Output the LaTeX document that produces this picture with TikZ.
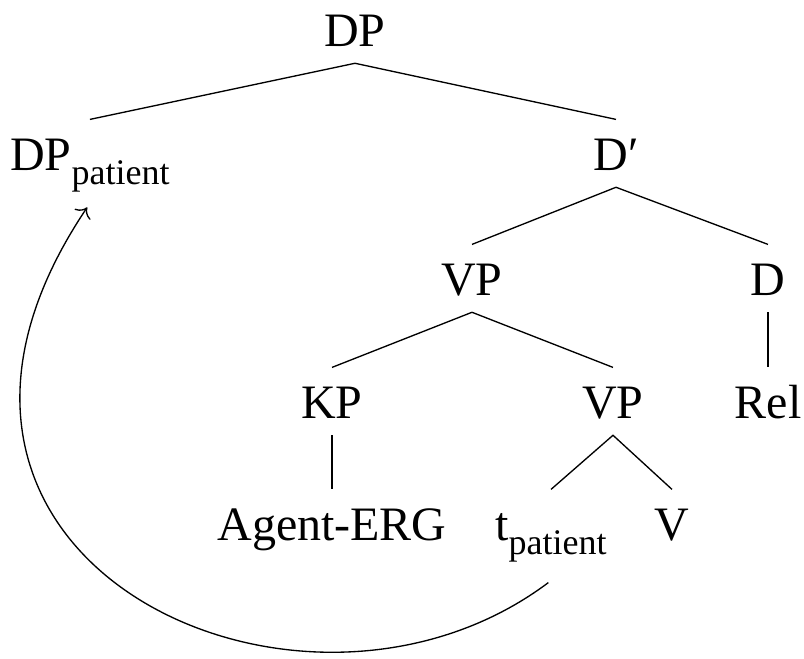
\documentclass[tikz,border=0pt]{standalone}
\usepackage{fontspec}
\setmainfont{Liberation Serif}
\usetikzlibrary{arrows.meta}
\newcommand{\subtxt}[1]{\raisebox{-11pt}{\fontsize{27}{30}\selectfont #1}}

\begin{document}
\begin{tikzpicture}[x=0.75pt,y=-0.75pt,
    lbl/.style={anchor=base,inner xsep=0pt,inner ysep=12.75pt,text height=25pt,text depth=0pt,font=\fontsize{36}{40}\selectfont},
    branch/.style={line width=1pt}]
    \useasboundingbox (0,0) rectangle (804,658);

    \node[lbl] (dp) at (355,46) {DP};
    \node[lbl,anchor=base west] (dpp) at (10,170) {DP\subtxt{patient}};
    \node[lbl] (dbar) at (616,170) {D′};
    \node[lbl] (vpa) at (472,295) {VP};
    \node[lbl] (d) at (768,295) {D};
    \node[lbl] (kp) at (332,418) {KP};
    \node[lbl] (vpb) at (613,418) {VP};
    \node[lbl] (rel) at (768,418) {Rel};
    \node[lbl] (agent) at (332,540) {Agent-ERG};
    \node[lbl] (tpat) at (551,540) {t\subtxt{patient}};
    \node[lbl] (v) at (672,540) {V};

    \draw[branch] (dpp.north) -- (dp.south) -- (dbar.north);
    \draw[branch] (vpa.north) -- (dbar.south) -- (d.north);
    \draw[branch] (kp.north) -- (vpa.south) -- (vpb.north);
    \draw[branch] (d.south) -- (rel.north);
    \draw[branch] (kp.south) -- (agent.north);
    \draw[branch] (tpat.north) -- (vpb.south) -- (v.north);

    % movement of the patient
    \draw[branch,-{To[scale=1.8]}]
        ([xshift=-2pt,yshift=-19pt]tpat.south) .. controls (300,769) and (-150,560) .. ([xshift=-2pt,yshift=-15pt]dpp.south);
\end{tikzpicture}
\end{document}
